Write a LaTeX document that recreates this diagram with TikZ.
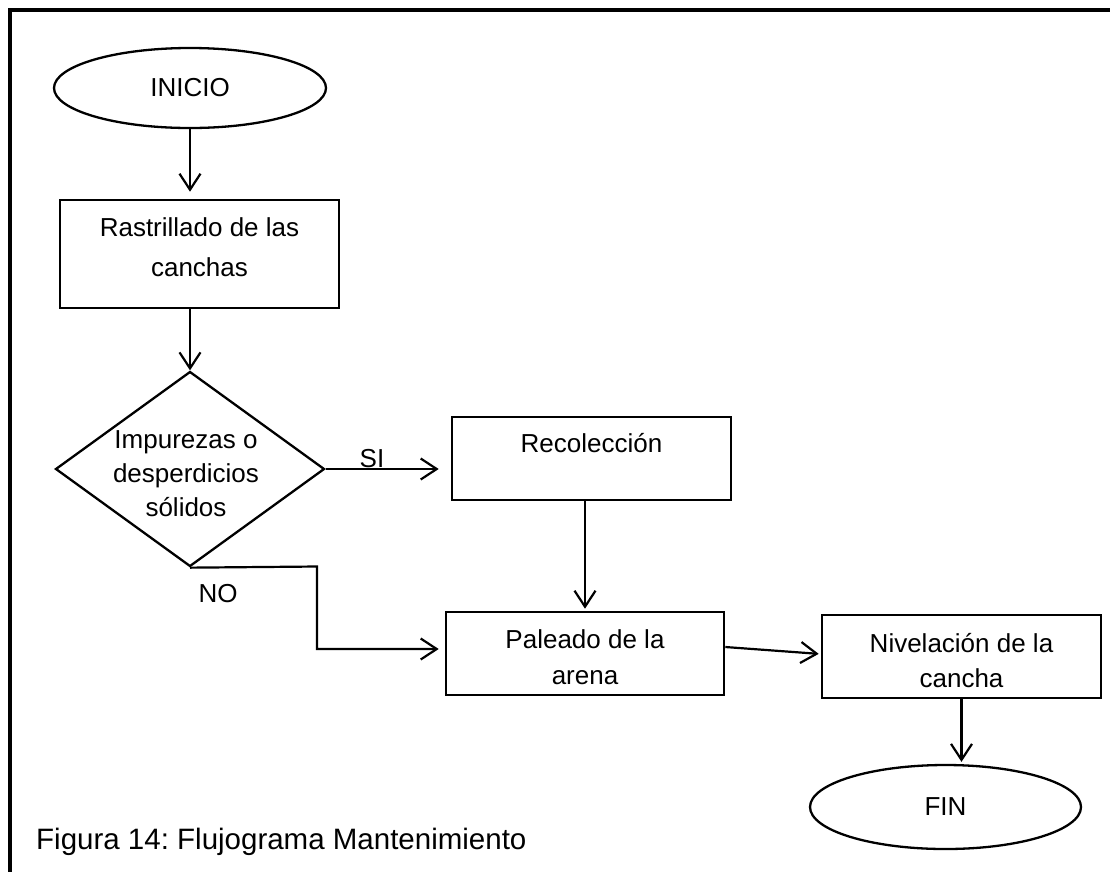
\documentclass[tikz,border=0pt]{standalone}
\usepackage{fontspec}
\setmainfont{Liberation Sans}
\frenchspacing
\usetikzlibrary{shapes.geometric,arrows.meta}
\begin{document}
\begin{tikzpicture}[x=1pt,y=-1pt,
  every node/.style={font=\fontsize{26}{36}\selectfont},
  box/.style={draw, line width=2.6pt, rectangle, align=center, inner sep=0pt},
  term/.style={draw, line width=2.3pt, ellipse, inner sep=0pt},
  dec/.style={draw, line width=2.3pt, diamond, inner sep=0pt},
  arr/.style={line width=2.2pt, -{Straight Barb[length=16pt,width=21pt]}},
  lbl/.style={inner sep=0pt},
  frame/.style={line width=4pt}
]
\useasboundingbox (0,0) rectangle (1110,871);
\draw[frame] (1112,9.5) -- (10,9.5) -- (10,873);

\node[term, minimum width=272pt, minimum height=80pt] (ini) at (190,88) {INICIO};
\node[box, minimum width=279pt, minimum height=108pt, text depth=14pt,
      font=\fontsize{26}{40}\selectfont] (rast) at (199.5,254) {Rastrillado de las\\canchas};
\node[dec, minimum width=269pt, minimum height=195pt] (dec) at (190,469) {};
\node[lbl, align=center, font=\fontsize{26}{34}\selectfont] (dtxt) at (186,474) {Impurezas o\\desperdicios\\sólidos};
\node[box, minimum width=279pt, minimum height=83pt, text depth=31.5pt] (rec) at (591.5,458.5) {Recolección};
\node[box, minimum width=278pt, minimum height=83pt, text height=62pt] (pal) at (585,653.5) {Paleado de la\\arena};
\node[box, minimum width=279pt, minimum height=83pt, text height=62pt,
      font=\fontsize{26}{35}\selectfont] (niv) at (961.5,656.5) {Nivelación de la\\cancha};
\node[term, minimum width=271pt, minimum height=84pt] (fin) at (945.5,807) {FIN};

\node[lbl] (si) at (372,459) {SI};
\node[lbl] (no) at (218,594) {NO};
\node[lbl, anchor=base west, font=\fontsize{29.5}{34}\selectfont] (cap) at (36,849) {Figura 14: Flujograma Mantenimiento};

\coordinate (n1) at (317,566.5);

\draw[arr, shorten >=7pt] (ini.south) -- (ini.south |- rast.north);
\draw[arr] (rast.south -| dec.north) -- (dec.north);
\draw[arr, shorten >=12pt] (dec.east) -- (dec.east -| rec.west);
\draw[arr, shorten >=6pt] (dec.south) -- (n1) |- ([yshift=4.5pt]pal.west);
\draw[arr, shorten >=2pt] (rec.south -| pal.north) -- (pal.north);
\draw[arr, shorten >=2pt] ([yshift=6.5pt]pal.east) -- ([yshift=2.5pt]niv.west);
\draw[arr, shorten >=2pt] (niv.south) -- (niv.south |- fin.north);
\end{tikzpicture}
\end{document}
